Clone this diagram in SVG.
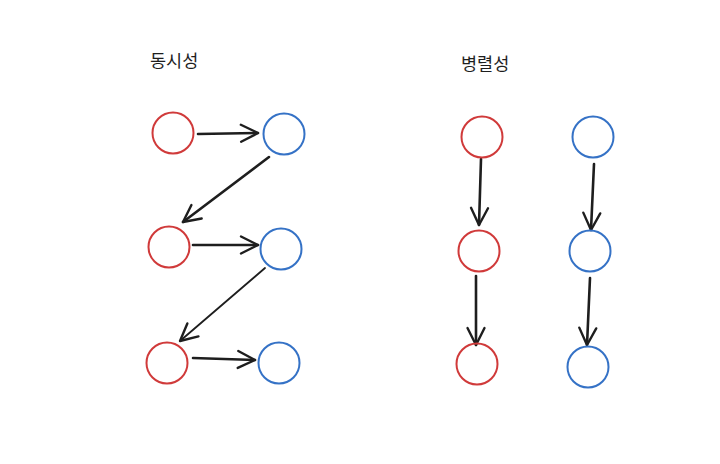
<svg xmlns="http://www.w3.org/2000/svg" width="720" height="464" viewBox="0 0 720 464">
<style>
.red{fill:none;stroke:#d03a3a;stroke-width:2}
.blue{fill:none;stroke:#3572c6;stroke-width:2}
.edge{fill:none;stroke:#1e1e1e;stroke-width:2.6;stroke-linecap:round}
.thin{stroke-width:1.8}
.title{font-family:"Noto Sans CJK KR","Noto Sans",sans-serif;font-size:17.5px;fill:#1e1e1e}
</style>
<defs>
<marker id="ah" viewBox="-20 -12 24 24" refX="0" refY="0" markerWidth="24" markerHeight="24" markerUnits="userSpaceOnUse" orient="auto">
<path d="M-17,-8.5 L0,0 L-17,8.5" fill="none" stroke="#1e1e1e" stroke-width="2.4" stroke-linecap="round" stroke-linejoin="round"/>
</marker>
</defs>
<rect width="720" height="464" fill="#ffffff"/>
<text class="title" x="150" y="67">동시성</text>
<text class="title" x="461" y="70">병렬성</text>
<g id="connectors">
<line class="edge" x1="198" y1="134" x2="258" y2="133" marker-end="url(#ah)"/>
<line class="edge" x1="269" y1="157" x2="183" y2="222" marker-end="url(#ah)"/>
<line class="edge" x1="193" y1="245" x2="258" y2="245" marker-end="url(#ah)"/>
<line class="edge thin" x1="265" y1="268" x2="180" y2="341" marker-end="url(#ah)"/>
<line class="edge" x1="193" y1="358" x2="255" y2="360" marker-end="url(#ah)"/>
<line class="edge" x1="481" y1="159" x2="479" y2="225" marker-end="url(#ah)"/>
<line class="edge" x1="476" y1="276" x2="476" y2="345" marker-end="url(#ah)"/>
<line class="edge" x1="594" y1="164" x2="591" y2="230" marker-end="url(#ah)"/>
<line class="edge" x1="590" y1="278" x2="587" y2="345" marker-end="url(#ah)"/>
</g>
<g id="c-red1"><circle class="red" cx="173" cy="133" r="20.5"/></g>
<g id="c-blue1"><circle class="blue" cx="284" cy="134" r="20.5"/></g>
<g id="c-red2"><circle class="red" cx="169" cy="247" r="20.5"/></g>
<g id="c-blue2"><circle class="blue" cx="281" cy="249" r="20.5"/></g>
<g id="c-red3"><circle class="red" cx="167" cy="363" r="20.5"/></g>
<g id="c-blue3"><circle class="blue" cx="279" cy="363" r="20.5"/></g>
<g id="p-red1"><circle class="red" cx="482" cy="137" r="20.5"/></g>
<g id="p-blue1"><circle class="blue" cx="593" cy="137" r="20.5"/></g>
<g id="p-red2"><circle class="red" cx="479" cy="251" r="20.5"/></g>
<g id="p-blue2"><circle class="blue" cx="590" cy="251" r="20.5"/></g>
<g id="p-red3"><circle class="red" cx="477" cy="364" r="20.5"/></g>
<g id="p-blue3"><circle class="blue" cx="588" cy="367" r="20.5"/></g>
</svg>
